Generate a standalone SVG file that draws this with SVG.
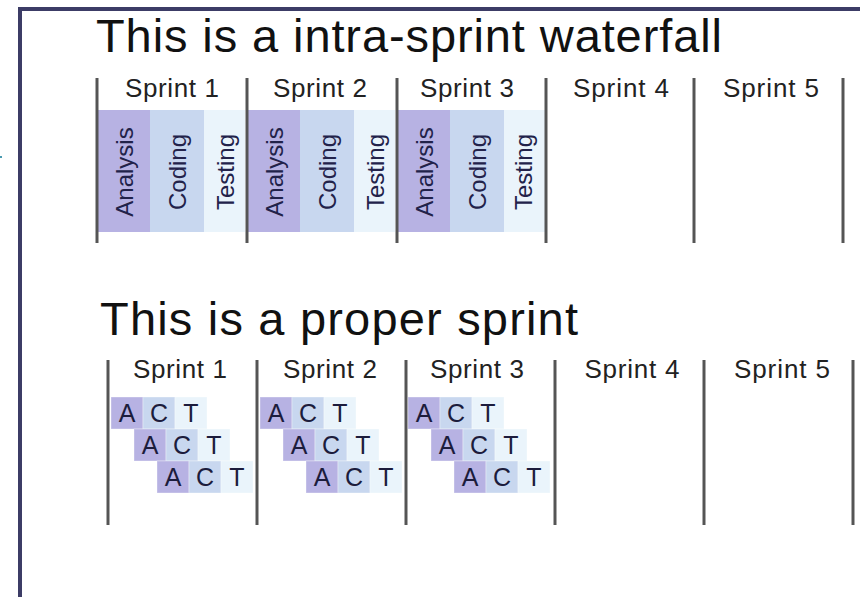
<svg xmlns="http://www.w3.org/2000/svg" width="860" height="597" viewBox="0 0 860 597">
<style>
text{font-family:"Liberation Sans",Arial,sans-serif}
.title{font-size:47px;fill:#111}
.lbl{font-size:26px;fill:#222;text-anchor:middle}
.vt{font-size:24px;fill:#22224a;text-anchor:middle}
.div{stroke:#555;stroke-width:3}
.a{fill:#b7b2e3}
.c{fill:#c8d7ef}
.t{fill:#eaf4fb}
.box{stroke:#ffffff;stroke-opacity:0.35;stroke-width:1}
.L{font-size:25px;fill:#1c1c3c;text-anchor:middle}
</style>
<rect x="0" y="0" width="860" height="597" fill="#ffffff"/>
<rect x="20" y="9" width="900" height="700" fill="none" stroke="#3c3c66" stroke-width="4"/>
<rect x="0" y="156" width="2" height="2" fill="#4a9ab0"/>

<g id="title-top"><text class="title" x="96" y="52" textLength="626">This is a intra-sprint waterfall</text></g>

<g id="top-sprint-1">
<rect class="a" x="98" y="110" width="52" height="122"/>
<rect class="c" x="150" y="110" width="54" height="122"/>
<rect class="t" x="204" y="110" width="41" height="122"/>
<text class="lbl" x="172" y="97" textLength="94">Sprint 1</text>
<text class="vt" transform="translate(133,172) rotate(-90)">Analysis</text>
<text class="vt" transform="translate(185.5,172) rotate(-90)">Coding</text>
<text class="vt" transform="translate(233.5,172) rotate(-90)">Testing</text>
</g>
<g id="top-sprint-2">
<rect class="a" x="248" y="110" width="52" height="122"/>
<rect class="c" x="300" y="110" width="54" height="122"/>
<rect class="t" x="354" y="110" width="41" height="122"/>
<text class="lbl" x="320" y="97" textLength="94">Sprint 2</text>
<text class="vt" transform="translate(283,172) rotate(-90)">Analysis</text>
<text class="vt" transform="translate(335.5,172) rotate(-90)">Coding</text>
<text class="vt" transform="translate(383.5,172) rotate(-90)">Testing</text>
</g>
<g id="top-sprint-3">
<rect class="a" x="398" y="110" width="52" height="122"/>
<rect class="c" x="450" y="110" width="54" height="122"/>
<rect class="t" x="504" y="110" width="41" height="122"/>
<text class="lbl" x="467" y="97" textLength="94">Sprint 3</text>
<text class="vt" transform="translate(433,172) rotate(-90)">Analysis</text>
<text class="vt" transform="translate(485.5,172) rotate(-90)">Coding</text>
<text class="vt" transform="translate(532,172) rotate(-90)">Testing</text>
</g>
<g id="top-sprint-4"><text class="lbl" x="621" y="97" textLength="96">Sprint 4</text></g>
<g id="top-sprint-5"><text class="lbl" x="771" y="97" textLength="96">Sprint 5</text></g>

<g id="title-bottom"><text class="title" x="100" y="335" textLength="478">This is a proper sprint</text></g>

<g id="bottom-sprint-1">
<text class="lbl" x="180" y="378" textLength="94">Sprint 1</text>
<rect class="a box" x="111" y="397" width="32" height="32"/><rect class="c box" x="143" y="397" width="32" height="32"/><rect class="t box" x="175" y="397" width="32" height="32"/>
<rect class="a box" x="134" y="429" width="32" height="32"/><rect class="c box" x="166" y="429" width="32" height="32"/><rect class="t box" x="198" y="429" width="32" height="32"/>
<rect class="a box" x="157" y="461" width="32" height="32"/><rect class="c box" x="189" y="461" width="32" height="32"/><rect class="t box" x="221" y="461" width="32" height="32"/>
<text class="L" x="127" y="422">A</text><text class="L" x="159" y="422">C</text><text class="L" x="191" y="422">T</text>
<text class="L" x="150" y="454">A</text><text class="L" x="182" y="454">C</text><text class="L" x="214" y="454">T</text>
<text class="L" x="173" y="486">A</text><text class="L" x="205" y="486">C</text><text class="L" x="237" y="486">T</text>
</g>
<g id="bottom-sprint-2">
<text class="lbl" x="330" y="378" textLength="94">Sprint 2</text>
<rect class="a box" x="260" y="397" width="32" height="32"/><rect class="c box" x="292" y="397" width="32" height="32"/><rect class="t box" x="324" y="397" width="32" height="32"/>
<rect class="a box" x="283" y="429" width="32" height="32"/><rect class="c box" x="315" y="429" width="32" height="32"/><rect class="t box" x="347" y="429" width="32" height="32"/>
<rect class="a box" x="306" y="461" width="32" height="32"/><rect class="c box" x="338" y="461" width="32" height="32"/><rect class="t box" x="370" y="461" width="32" height="32"/>
<text class="L" x="276" y="422">A</text><text class="L" x="308" y="422">C</text><text class="L" x="340" y="422">T</text>
<text class="L" x="299" y="454">A</text><text class="L" x="331" y="454">C</text><text class="L" x="363" y="454">T</text>
<text class="L" x="322" y="486">A</text><text class="L" x="354" y="486">C</text><text class="L" x="386" y="486">T</text>
</g>
<g id="bottom-sprint-3">
<text class="lbl" x="477" y="378" textLength="94">Sprint 3</text>
<rect class="a box" x="408" y="397" width="32" height="32"/><rect class="c box" x="440" y="397" width="32" height="32"/><rect class="t box" x="472" y="397" width="32" height="32"/>
<rect class="a box" x="431" y="429" width="32" height="32"/><rect class="c box" x="463" y="429" width="32" height="32"/><rect class="t box" x="495" y="429" width="32" height="32"/>
<rect class="a box" x="454" y="461" width="32" height="32"/><rect class="c box" x="486" y="461" width="32" height="32"/><rect class="t box" x="518" y="461" width="32" height="32"/>
<text class="L" x="424" y="422">A</text><text class="L" x="456" y="422">C</text><text class="L" x="488" y="422">T</text>
<text class="L" x="447" y="454">A</text><text class="L" x="479" y="454">C</text><text class="L" x="511" y="454">T</text>
<text class="L" x="470" y="486">A</text><text class="L" x="502" y="486">C</text><text class="L" x="534" y="486">T</text>
</g>
<g id="bottom-sprint-4"><text class="lbl" x="632" y="378" textLength="95">Sprint 4</text></g>
<g id="bottom-sprint-5"><text class="lbl" x="782" y="378" textLength="96">Sprint 5</text></g>

<g id="connectors">
<line class="div" x1="97" y1="78" x2="97" y2="243"/>
<line class="div" x1="247" y1="78" x2="247" y2="243"/>
<line class="div" x1="397" y1="78" x2="397" y2="243"/>
<line class="div" x1="546" y1="78" x2="546" y2="243"/>
<line class="div" x1="694" y1="78" x2="694" y2="243"/>
<line class="div" x1="843" y1="78" x2="843" y2="243"/>
<line class="div" x1="108" y1="360" x2="108" y2="525"/>
<line class="div" x1="257" y1="360" x2="257" y2="525"/>
<line class="div" x1="406" y1="360" x2="406" y2="525"/>
<line class="div" x1="555" y1="360" x2="555" y2="525"/>
<line class="div" x1="704" y1="360" x2="704" y2="525"/>
<line class="div" x1="853" y1="360" x2="853" y2="525"/>
</g>
</svg>
